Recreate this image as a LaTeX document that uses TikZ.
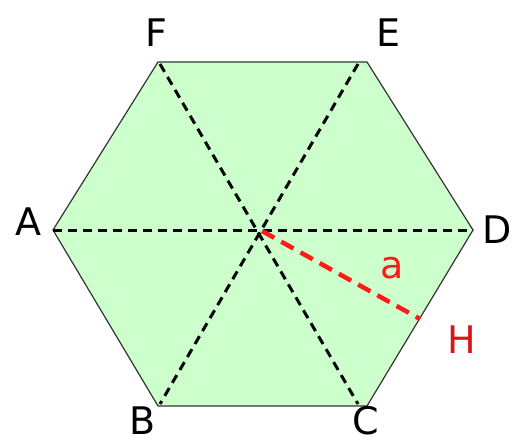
\documentclass[tikz,border=0pt]{standalone}
\usepackage{fontspec}
\setmainfont{DejaVu Sans}
\definecolor{hexfill}{HTML}{CCFFCC}
\definecolor{hexedge}{HTML}{333333}
\definecolor{redline}{HTML}{FF1A1A}
\tikzset{
  diag/.style={black, line width=3pt, dash pattern=on 9pt off 6pt},
  reddiag/.style={redline, line width=4.5pt, dash pattern=on 14pt off 8pt},
  lbl/.style={font=\fontsize{38}{38}\selectfont, inner sep=0pt},
}
\begin{document}
\begin{tikzpicture}[x=1pt,y=-1pt]
\useasboundingbox (0,0) rectangle (513,441);
\coordinate (A) at (53,230);
\coordinate (F) at (158,62);
\coordinate (E) at (367,62);
\coordinate (D) at (473,230);
\coordinate (C) at (367,406);
\coordinate (B) at (158,406);
\coordinate (O) at (262,231);
\coordinate (H) at (420,319);
\filldraw[fill=hexfill, draw=hexedge, line width=1.2pt] (A) -- (F) -- (E) -- (D) -- (C) -- (B) -- cycle;
\draw[diag] (A) -- (D);
\draw[diag] (160,64) -- (358,404);
\draw[diag] (358,64) -- (160,404);
\draw[reddiag] (O) -- (H);
\node[lbl] (lA) at (28,222) {A};
\node[lbl] (lF) at (156,33) {F};
\node[lbl] (lE) at (388,33) {E};
\node[lbl] (lD) at (497,230) {D};
\node[lbl] (lB) at (143,421) {B};
\node[lbl] (lC) at (366,421) {C};
\node[lbl, text=redline] (la) at (392,268) {a};
\node[lbl, text=redline!85!black] (lH) at (462,340) {H};
\end{tikzpicture}
\end{document}
